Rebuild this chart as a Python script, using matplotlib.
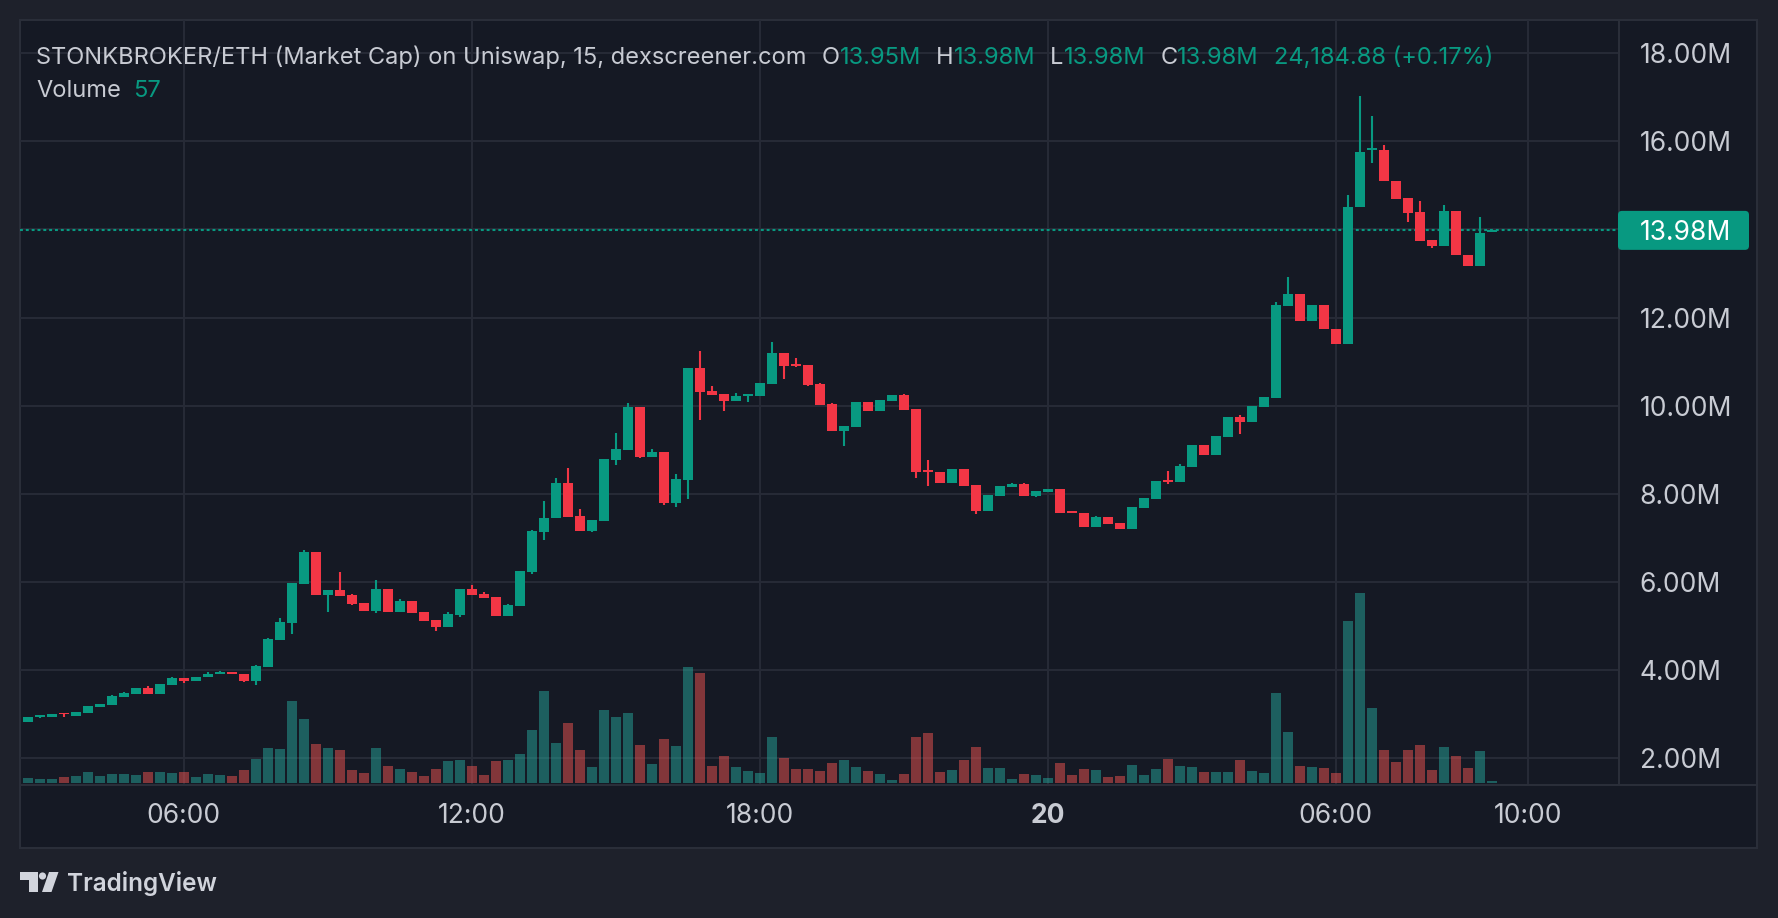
import numpy as np
import matplotlib
matplotlib.use("Agg")
import matplotlib.pyplot as plt
from matplotlib import transforms as mtransforms
from matplotlib.patches import FancyBboxPatch, Rectangle, Polygon, Circle
from matplotlib.lines import Line2D

plt.rcParams['font.family'] = ['Inter', 'DejaVu Sans']

# ---------------- data (15-minute candles, market cap in millions) ----------------
start_hour = 2.75          # first candle 02:45 on the 19th
bar_hours = 0.25

open_ = [2.83, 2.94, 2.94, 3.02, 2.96, 3.03, 3.16, 3.21, 3.39, 3.46,
         3.59, 3.46, 3.67, 3.82, 3.74, 3.83, 3.92, 3.96, 3.91, 3.75,
         4.07, 4.68, 5.07, 5.95, 6.68, 5.70, 5.82, 5.70, 5.52, 5.34,
         5.84, 5.32, 5.57, 5.32, 5.14, 4.98, 5.25, 5.84, 5.73, 5.66,
         5.23, 5.45, 6.23, 7.14, 7.44, 8.25, 7.50, 7.16, 7.39, 8.77,
         8.99, 9.97, 8.84, 8.95, 7.78, 8.32, 10.86, 10.33, 10.27, 10.11,
         10.22, 10.22, 10.50, 11.20, 10.95, 10.92, 10.49, 10.04, 9.43, 9.52,
         10.08, 9.88, 10.11, 10.24, 9.93, 8.54, 8.50, 8.25, 8.56, 8.20,
         7.61, 7.95, 8.16, 8.22, 7.95, 8.04, 8.11, 7.61, 7.57, 7.25,
         7.47, 7.34, 7.20, 7.68, 7.88, 8.32, 8.27, 8.61, 9.11, 8.88,
         9.29, 9.74, 9.63, 9.97, 10.18, 12.27, 12.54, 11.93, 12.29, 11.74,
         11.39, 14.50, 15.81, 15.80, 15.10, 14.72, 14.40, 13.76, 13.63, 14.42,
         13.42, 13.18, 13.95]
high = [2.93, 2.98, 3.00, 3.02, 3.05, 3.18, 3.23, 3.43, 3.50, 3.59,
        3.64, 3.68, 3.84, 3.82, 3.84, 3.96, 3.98, 3.96, 3.91, 4.11,
        4.73, 5.18, 5.98, 6.73, 6.68, 5.82, 6.23, 5.72, 5.52, 6.04,
        5.84, 5.61, 5.57, 5.32, 5.14, 5.32, 5.84, 5.93, 5.77, 5.66,
        5.50, 6.25, 7.18, 7.84, 8.36, 8.59, 7.66, 7.41, 8.79, 9.38,
        10.06, 9.97, 9.02, 8.95, 8.45, 10.86, 11.24, 10.45, 10.27, 10.29,
        10.27, 10.52, 11.45, 11.20, 11.08, 10.92, 10.52, 10.06, 9.54, 10.08,
        10.08, 10.13, 10.24, 10.27, 9.93, 8.77, 8.50, 8.56, 8.56, 8.20,
        7.97, 8.18, 8.25, 8.25, 8.06, 8.11, 8.11, 7.61, 7.57, 7.50,
        7.47, 7.34, 7.70, 7.90, 8.29, 8.52, 8.68, 9.11, 9.11, 9.31,
        9.74, 9.79, 9.99, 10.20, 12.36, 12.92, 12.54, 12.29, 12.29, 11.74,
        14.78, 17.03, 16.58, 15.92, 15.10, 14.72, 14.65, 13.76, 14.56, 14.42,
        13.42, 14.28, 13.98]
low = [2.83, 2.92, 2.94, 2.94, 2.96, 3.03, 3.16, 3.21, 3.39, 3.46,
       3.46, 3.46, 3.67, 3.71, 3.74, 3.83, 3.92, 3.92, 3.73, 3.66,
       4.07, 4.68, 4.82, 5.95, 5.70, 5.32, 5.68, 5.48, 5.34, 5.29,
       5.32, 5.32, 5.30, 5.11, 4.89, 4.98, 5.20, 5.70, 5.64, 5.23,
       5.23, 5.45, 6.19, 6.96, 7.44, 7.48, 7.16, 7.14, 7.39, 8.66,
       8.99, 8.82, 8.84, 7.75, 7.71, 7.89, 9.68, 10.24, 9.89, 10.11,
       10.09, 10.22, 10.50, 10.61, 10.88, 10.45, 10.02, 9.43, 9.09, 9.52,
       9.88, 9.88, 10.11, 9.90, 8.36, 8.18, 8.25, 8.25, 8.18, 7.54,
       7.61, 7.95, 8.16, 7.95, 7.93, 8.04, 7.57, 7.57, 7.25, 7.25,
       7.32, 7.20, 7.20, 7.68, 7.88, 8.22, 8.27, 8.61, 8.88, 8.88,
       9.29, 9.36, 9.63, 9.97, 10.18, 12.27, 11.93, 11.93, 11.73, 11.39,
       11.39, 14.50, 15.51, 15.09, 14.70, 14.16, 13.75, 13.59, 13.63, 13.41,
       13.18, 13.18, 13.95]
close = [2.93, 2.98, 3.00, 2.99, 3.05, 3.18, 3.23, 3.41, 3.48, 3.59,
         3.46, 3.68, 3.82, 3.74, 3.84, 3.91, 3.96, 3.92, 3.75, 4.09,
         4.70, 5.09, 5.98, 6.68, 5.70, 5.82, 5.68, 5.50, 5.34, 5.84,
         5.32, 5.57, 5.30, 5.11, 4.98, 5.27, 5.84, 5.70, 5.64, 5.23,
         5.48, 6.25, 7.16, 7.45, 8.25, 7.48, 7.16, 7.41, 8.79, 9.02,
         9.97, 8.84, 8.95, 7.78, 8.34, 10.86, 10.32, 10.24, 10.11, 10.22,
         10.27, 10.52, 11.20, 10.91, 10.91, 10.47, 10.02, 9.43, 9.54, 10.08,
         9.88, 10.13, 10.24, 9.90, 8.50, 8.50, 8.25, 8.56, 8.18, 7.61,
         7.97, 8.18, 8.22, 7.95, 8.06, 8.11, 7.57, 7.57, 7.25, 7.47,
         7.32, 7.20, 7.70, 7.90, 8.29, 8.27, 8.63, 9.11, 8.88, 9.31,
         9.74, 9.63, 9.99, 10.20, 12.29, 12.54, 11.93, 12.29, 11.73, 11.39,
         14.51, 15.76, 15.84, 15.09, 14.70, 14.38, 13.75, 13.63, 14.42, 13.41,
         13.18, 13.92, 13.98]
volume = [143, 114, 114, 171, 200, 314, 200, 257, 257, 228,
          314, 314, 285, 314, 171, 257, 228, 200, 371, 684,
          998, 969, 2337, 1824, 1112, 998, 941, 371, 285, 998,
          485, 399, 314, 200, 399, 627, 656, 485, 228, 627,
          656, 827, 1511, 2622, 1140, 1710, 941, 456, 2081, 1881,
          1995, 1083, 542, 1254, 1055, 3306, 3135, 485, 770, 456,
          342, 285, 1311, 713, 399, 399, 342, 570, 656, 456,
          342, 257, 86, 257, 1311, 1425, 314, 371, 656, 1026,
          428, 428, 114, 257, 228, 143, 570, 228, 399, 371,
          171, 200, 513, 228, 399, 684, 485, 456, 314, 314,
          314, 656, 342, 285, 2565, 1454, 485, 456, 428, 285,
          4617, 5415, 2138, 941, 599, 941, 1083, 371, 1026, 770,
          428, 912, 57]

price_levels = [2, 4, 6, 8, 10, 12, 14, 16, 18]
time_ticks = [6, 12, 18, 24, 30, 34]
time_labels = ["06:00", "12:00", "18:00", "20", "06:00", "10:00"]

title_text = "STONKBROKER/ETH (Market Cap) on Uniswap, 15, dexscreener.com"
ohlc_letters = ["O", "H", "L", "C"]
ohlc_values = ["13.95M", "13.98M", "13.98M", "13.98M"]
change_text = "24,184.88 (+0.17%)"

# ---------------- style ----------------
OUTER = "#1e212b"
PANE = "#151924"
GRID = "#262a36"
BORDER = "#2a2e39"
TXT = "#c8cbd3"
UP = "#089981"
DOWN = "#f23645"
VUP = (38/255, 166/255, 154/255, 0.5)
VDOWN = (239/255, 83/255, 80/255, 0.5)

W, H = 1778, 918
PL, PR, PT, PB = 20, 1619, 20, 785      # plot pane in pixels (top-down)
FR, FB = 1757, 848                       # outer frame right / bottom

o = np.array(open_); hi = np.array(high); lo = np.array(low); c = np.array(close)
v = np.array(volume)
n = len(c)
t = start_hour + bar_hours * np.arange(n)
is_up = c >= o

fig = plt.figure(figsize=(W / 100, H / 100), dpi=100, facecolor=OUTER)
ID = mtransforms.IdentityTransform()

# framed background
fig.add_artist(Rectangle((PL, H - FB), FR - PL, FB - PT, transform=ID,
                         facecolor=PANE, edgecolor=BORDER, lw=1.5, zorder=-5))

ax = fig.add_axes([PL / W, 1 - PB / H, (PR - PL) / W, (PB - PT) / H])
axv = ax.twinx()
ax.yaxis.tick_right()
ax.set_zorder(2)
axv.set_zorder(1)
ax.patch.set_visible(False)
axv.patch.set_visible(False)

ymin, ymax = 1.389, 18.756
xmin, xmax = 2.589, 35.90
ax.set_ylim(ymin, ymax)
ax.set_xlim(xmin, xmax)
axv.set_ylim(-57, 21745)

for a in (ax, axv):
    for s in a.spines.values():
        s.set_visible(False)

# grid (drawn on the lowest layer)
for tt in time_ticks:
    axv.axvline(tt, color=GRID, lw=1.5, zorder=0)
hb = mtransforms.blended_transform_factory(axv.transAxes, ax.transData)
for p in price_levels:
    axv.add_line(Line2D([0, 1], [p, p], transform=hb, color=GRID, lw=1.5, zorder=0))

# volume
body_w = bar_hours * 10 / 12
axv.bar(t, v, width=body_w, color=[VUP if u else VDOWN for u in is_up], lw=0, zorder=1)
axv.set_yticks([])
axv.yaxis.set_visible(False)

# price line
ax.axhline(c[-1], color=UP, lw=1.5, linestyle=(0, (1.4, 1.4)), zorder=1)

# candles
cols = [UP if u else DOWN for u in is_up]
ax.vlines(t, lo, hi, colors=cols, lw=1.5, zorder=3)
min_h = (ymax - ymin) / (PB - PT) * 1.5
bot = np.minimum(o, c)
hgt = np.maximum(np.abs(c - o), min_h)
ax.bar(t, hgt, bottom=bot, width=body_w, color=cols, lw=0, zorder=4)

# axes ticks
ax.set_yticks(price_levels)
ax.set_yticklabels([f"{p:.2f}M" for p in price_levels])
ax.tick_params(axis='y', length=0, pad=15, labelsize=19, labelcolor=TXT)
ax.set_xticks(time_ticks)
ax.set_xticklabels(time_labels)
ax.tick_params(axis='x', length=0, pad=13, labelsize=19, labelcolor=TXT)
for lab in ax.get_xticklabels():
    if lab.get_text() == "20":
        lab.set_fontweight('bold')

# separators
fig.add_artist(Line2D([PR, PR], [H - PB, H - PT], transform=ID, color=BORDER, lw=1.5, zorder=6))
fig.add_artist(Line2D([PL, FR], [H - PB, H - PB], transform=ID, color=BORDER, lw=1.5, zorder=6))

# last price label
ypx = ax.transData.transform((xmin, c[-1]))[1]
fig.add_artist(FancyBboxPatch((PR - 1, ypx - 19.5), 131, 39, transform=ID,
                              boxstyle="round,pad=0,rounding_size=4",
                              facecolor=UP, edgecolor='none', zorder=7))
fig.text(1640, ypx, f"{c[-1]:.2f}M", transform=ID, color='white', fontsize=19,
         va='center_baseline', ha='left', zorder=8)

# header legend
fig.canvas.draw()
r = fig.canvas.get_renderer()

def put(x, y, s, col, gap=0, **kw):
    tx = fig.text(x, y, s, transform=ID, color=col, fontsize=17, va='baseline', ha='left', zorder=8, **kw)
    bb = tx.get_window_extent(renderer=r)
    return bb.x1 + gap

x = put(36, H - 64, title_text, TXT, 15)
for L, val in zip(ohlc_letters, ohlc_values):
    x = put(x, H - 64, L, TXT)
    x = put(x, H - 64, val, UP, 15)
put(x, H - 64, change_text, UP)

x = put(36, H - 97, "Volume", TXT, 12)
put(x, H - 97, f"{v[-1]:d}", UP)

# TradingView logo
LOGO = "#d1d4dc"
fig.add_artist(Polygon([[20, H - 872], [38, H - 872], [38, H - 892], [28.5, H - 892],
                        [28.5, H - 880], [20, H - 880]], closed=True, transform=ID,
                       facecolor=LOGO, edgecolor='none', zorder=8))
fig.add_artist(Circle((42.5, H - 876), 3.6, transform=ID, facecolor=LOGO, edgecolor='none', zorder=8))
fig.add_artist(Polygon([[49, H - 872], [58.5, H - 872], [51.5, H - 892], [42, H - 892]],
                       closed=True, transform=ID, facecolor=LOGO, edgecolor='none', zorder=8))
fig.text(67, H - 891, "TradingView", transform=ID, color=LOGO, fontsize=17.5,
         fontweight='semibold', va='baseline', ha='left', zorder=8)

fig.savefig("out.png", dpi=100, facecolor=OUTER)
